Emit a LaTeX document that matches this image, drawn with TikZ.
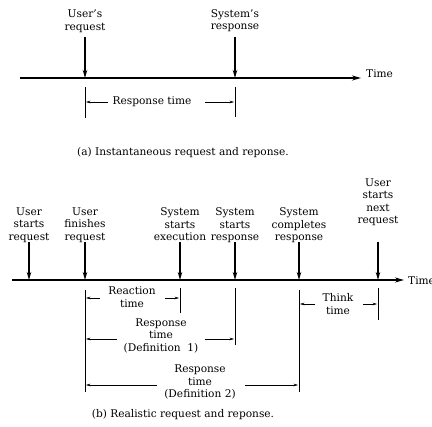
\documentclass[tikz,border=0pt]{standalone}
\usepackage{fontspec}
\setmainfont{DejaVu Serif}
\usetikzlibrary{arrows.meta}
\begin{document}
\begin{tikzpicture}[x=1pt,y=-1pt,
  font=\fontsize{10.6}{12.5}\selectfont,
  lbl/.style={inner sep=0pt,align=center},
  axis/.style={line width=1.4pt,-{Stealth[length=9pt,width=5pt]}},
  down/.style={line width=1.3pt,-{Stealth[length=8pt,width=4.5pt]}},
  tick/.style={line width=0.6pt},
  dim/.style={line width=0.6pt,-{Stealth[length=4.5pt,width=2.6pt]}}]
\useasboundingbox (0,0) rectangle (432,427);

% ---------- (a) ----------
\coordinate (a0) at (20,78);
\coordinate (a1) at (361,78);
\draw[axis] (a0) -- (a1);
\node[lbl,anchor=west] (atime) at (366,74) {Time};

\node[lbl,anchor=north] (aur) at (85,10) {User's\\request};
\node[lbl,anchor=north] (asr) at (235,9) {System's\\response};
\coordinate (aurT) at (85,37);  \coordinate (aurB) at (85,78);
\coordinate (asrT) at (235,37); \coordinate (asrB) at (235,78);
\draw[down] (aurT) -- (aurB);
\draw[down] (asrT) -- (asrB);

\coordinate (at1a) at (85,87);  \coordinate (at1b) at (85,118);
\coordinate (at2a) at (235,87); \coordinate (at2b) at (235,117);
\draw[tick] (at1a) -- (at1b);
\draw[tick] (at2a) -- (at2b);

\node[lbl] (art) at (152,102) {Response time};
\coordinate (artl0) at (108,102); \coordinate (artL) at (86,102);
\coordinate (artr0) at (205,102); \coordinate (artR) at (234,102);
\draw[dim] (artl0) -- (artL);
\draw[dim] (artr0) -- (artR);

\node[lbl] (capa) at (183,153) {(a) Instantaneous request and reponse.};

% ---------- (b) ----------
\coordinate (b0) at (12,280);
\coordinate (b1) at (404,280);
\draw[axis] (b0) -- (b1);
\node[lbl,anchor=west] (btime) at (408,281) {Time};

\node[lbl,anchor=north] (usr) at (29,207.5) {User\\starts\\request};
\node[lbl,anchor=north] (ufr) at (85,207.5) {User\\finishes\\request};
\node[lbl,anchor=north] (sse) at (180,207.5) {System\\starts\\execution};
\node[lbl,anchor=north] (ssr) at (235,207.5) {System\\starts\\response};
\node[lbl,anchor=north] (scr) at (299,207.5) {System\\completes\\response};
\node[lbl,anchor=north] (usn) at (378,178.5) {User\\starts\\next\\request};

\foreach \n/\x in {usr/29,ufr/85,sse/180,ssr/235,scr/299,usn/378}{
  \coordinate (\n T) at (\x,242);
  \coordinate (\n B) at (\x,280);
  \draw[down] (\n T) -- (\n B);
}

% ticks below axis
\coordinate (t1a) at (85,290);  \coordinate (t1b) at (85,392);
\coordinate (t2a) at (180,288); \coordinate (t2b) at (180,313);
\coordinate (t3a) at (235,288); \coordinate (t3b) at (235,345);
\coordinate (t4a) at (299,290); \coordinate (t4b) at (299,392);
\coordinate (t5a) at (378,288); \coordinate (t5b) at (378,320);
\foreach \i in {1,...,5}{\draw[tick] (t\i a) -- (t\i b);}

% Reaction time
\node[lbl] (rct) at (132,297) {Reaction\\time};
\coordinate (rcL0) at (100,298); \coordinate (rcL) at (86,298);
\coordinate (rcR0) at (165,298); \coordinate (rcR) at (179,298);
\draw[dim] (rcL0) -- (rcL);
\draw[dim] (rcR0) -- (rcR);

% Response time (Definition 1)
\node[lbl] (rt1) at (161,335.5) {Response\\time\\(Definition~~1)};
\coordinate (r1L0) at (117,339); \coordinate (r1L) at (86,339);
\coordinate (r1R0) at (205,339); \coordinate (r1R) at (234,339);
\draw[dim] (r1L0) -- (r1L);
\draw[dim] (r1R0) -- (r1R);

% Response time (Definition 2)
\node[lbl] (rt2) at (200,382) {Response\\time\\(Definition 2)};
\coordinate (r2L0) at (157,385); \coordinate (r2L) at (86,385);
\coordinate (r2R0) at (245,385); \coordinate (r2R) at (298,385);
\draw[dim] (r2L0) -- (r2L);
\draw[dim] (r2R0) -- (r2R);

% Think time
\node[lbl] (tht) at (338,304) {Think\\time};
\coordinate (thL0) at (315,304); \coordinate (thL) at (300,304);
\coordinate (thR0) at (363,304); \coordinate (thR) at (377,304);
\draw[dim] (thL0) -- (thL);
\draw[dim] (thR0) -- (thR);

\node[lbl] (capb) at (183,415) {(b) Realistic request and reponse.};
\end{tikzpicture}
\end{document}
